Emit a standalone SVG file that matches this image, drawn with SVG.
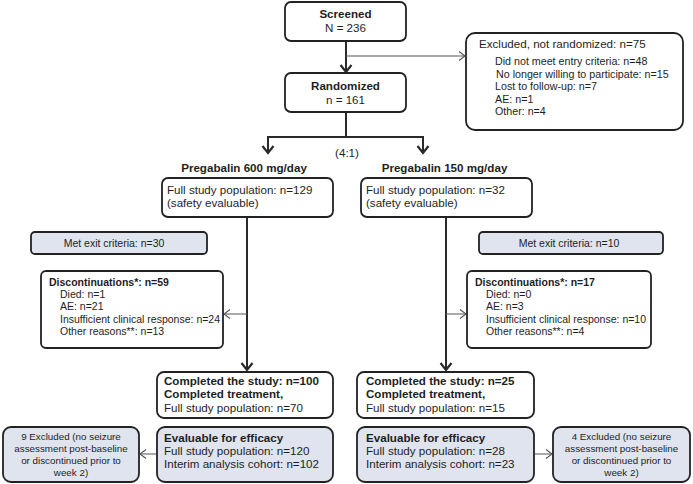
<svg xmlns="http://www.w3.org/2000/svg" width="693" height="484" viewBox="0 0 693 484">
<style>
text{font-family:"Liberation Sans",Arial,sans-serif;fill:#1e1e1e}
.box{fill:#fff;stroke:#222;stroke-width:1.8}
.blue{fill:#dfe4ef;stroke:#222;stroke-width:1.8}
.m{font-size:11.6px}
.b{font-weight:bold}
.s{font-size:10.5px}
.e{font-size:10.7px}
.x{font-size:9.8px}
.main{stroke:#2a2a2a;stroke-width:2;fill:none}
.thin{stroke:#555;stroke-width:1;fill:none}
</style>
<defs>
<marker id="ao" markerUnits="userSpaceOnUse" markerWidth="12" markerHeight="12" refX="10" refY="6" viewBox="0 0 12 12" orient="auto">
<path d="M4,1.5 L10,6 L4,10.5" fill="none" stroke="#555" stroke-width="1.1"/>
</marker>
<marker id="am" markerUnits="userSpaceOnUse" markerWidth="14" markerHeight="14" refX="11" refY="7" viewBox="0 0 14 14" orient="auto">
<path d="M4,1.5 L11,7 L4,12.5" fill="none" stroke="#2a2a2a" stroke-width="2.2"/>
</marker>
</defs>
<g id="connectors">
<line class="main" x1="346" y1="41" x2="346" y2="72" marker-end="url(#am)"/>
<line class="thin" x1="346" y1="56" x2="465" y2="56" marker-end="url(#ao)"/>
<polyline class="main" points="346,112 346,137"/>
<line class="main" x1="267" y1="137" x2="424" y2="137"/>
<line class="main" x1="268" y1="137" x2="268" y2="153" marker-end="url(#am)"/>
<line class="main" x1="423" y1="137" x2="423" y2="153" marker-end="url(#am)"/>
<line class="main" x1="247" y1="217" x2="247" y2="370" marker-end="url(#am)"/>
<line class="main" x1="446" y1="217" x2="446" y2="370" marker-end="url(#am)"/>
<line class="thin" x1="247" y1="314" x2="224" y2="314" marker-end="url(#ao)"/>
<line class="thin" x1="446" y1="314" x2="466" y2="314" marker-end="url(#ao)"/>
<line class="thin" x1="157" y1="454" x2="140" y2="454" marker-end="url(#ao)"/>
<line class="thin" x1="534" y1="454" x2="552" y2="454" marker-end="url(#ao)"/>
</g>
<g id="screened">
<rect class="box" x="285" y="2" width="121" height="39" rx="6"/>
<text class="m b" x="345.5" y="18" text-anchor="middle">Screened</text>
<text class="m" x="345.5" y="32" text-anchor="middle">N = 236</text>
</g>
<g id="randomized">
<rect class="box" x="285" y="73" width="121" height="39" rx="6"/>
<text class="m b" x="345.5" y="90" text-anchor="middle">Randomized</text>
<text class="m" x="345.5" y="104" text-anchor="middle">n = 161</text>
</g>
<g id="excluded">
<rect class="box" x="466" y="33" width="217" height="97" rx="9"/>
<text class="m" x="479" y="48">Excluded, not randomized: n=75</text>
<text class="e" x="495" y="65">Did not meet entry criteria: n=48</text>
<text class="e" x="496" y="78">No longer willing to participate: n=15</text>
<text class="e" x="495" y="90">Lost to follow-up: n=7</text>
<text class="e" x="495" y="103">AE: n=1</text>
<text class="e" x="495" y="115">Other: n=4</text>
</g>
<text class="m" x="347" y="157" text-anchor="middle">(4:1)</text>
<g id="arm600">
<text class="m b" x="244" y="172" text-anchor="middle">Pregabalin 600 mg/day</text>
<rect class="box" x="162" y="178" width="171" height="39" rx="6"/>
<text class="m" x="167" y="194">Full study population: n=129</text>
<text class="m" x="167" y="207">(safety evaluable)</text>
</g>
<g id="arm150">
<text class="m b" x="444.5" y="172" text-anchor="middle">Pregabalin 150 mg/day</text>
<rect class="box" x="361" y="178" width="171" height="39" rx="6"/>
<text class="m" x="366" y="194">Full study population: n=32</text>
<text class="m" x="366" y="207">(safety evaluable)</text>
</g>
<g id="exit600">
<rect class="blue" x="31" y="232" width="176" height="22" rx="4"/>
<text class="s" x="114" y="247" text-anchor="middle">Met exit criteria: n=30</text>
</g>
<g id="exit150">
<rect class="blue" x="479" y="232" width="184" height="22" rx="4"/>
<text class="s" x="569" y="247" text-anchor="middle">Met exit criteria: n=10</text>
</g>
<g id="disc600">
<rect class="box" x="41" y="271" width="182" height="77" rx="5"/>
<text class="s b" x="49" y="286">Discontinuations*: n=59</text>
<text class="s" x="60" y="298">Died: n=1</text>
<text class="s" x="60" y="310">AE: n=21</text>
<text class="s" x="60" y="323">Insufficient clinical response: n=24</text>
<text class="s" x="60" y="335">Other reasons**: n=13</text>
</g>
<g id="disc150">
<rect class="box" x="467" y="271" width="184" height="77" rx="5"/>
<text class="s b" x="475" y="286">Discontinuations*: n=17</text>
<text class="s" x="486" y="298">Died: n=0</text>
<text class="s" x="486" y="310">AE: n=3</text>
<text class="s" x="486" y="323">Insufficient clinical response: n=10</text>
<text class="s" x="486" y="335">Other reasons**: n=4</text>
</g>
<g id="comp600">
<rect class="box" x="157" y="372" width="176" height="46" rx="7"/>
<text class="m b" x="164" y="385">Completed the study: n=100</text>
<text class="m b" x="164" y="398">Completed treatment,</text>
<text class="m" x="164" y="412">Full study population: n=70</text>
</g>
<g id="comp150">
<rect class="box" x="357" y="372" width="177" height="46" rx="7"/>
<text class="m b" x="366" y="385">Completed the study: n=25</text>
<text class="m b" x="366" y="398">Completed treatment,</text>
<text class="m" x="366" y="412">Full study population: n=15</text>
</g>
<g id="eval600">
<rect class="blue" x="157" y="427" width="176" height="55" rx="8"/>
<text class="m b" x="164" y="442">Evaluable for efficacy</text>
<text class="m" x="164" y="455">Full study population: n=120</text>
<text class="m" x="164" y="468">Interim analysis cohort: n=102</text>
</g>
<g id="eval150">
<rect class="blue" x="357" y="427" width="177" height="55" rx="8"/>
<text class="m b" x="366" y="442">Evaluable for efficacy</text>
<text class="m" x="366" y="455">Full study population: n=28</text>
<text class="m" x="366" y="468">Interim analysis cohort: n=23</text>
</g>
<g id="excl600">
<rect class="blue" x="3" y="427" width="136" height="55" rx="8"/>
<text class="x" x="71" y="440" text-anchor="middle">9 Excluded (no seizure</text>
<text class="x" x="71" y="452" text-anchor="middle">assessment post-baseline</text>
<text class="x" x="71" y="464" text-anchor="middle">or discontinued prior to</text>
<text class="x" x="71" y="476" text-anchor="middle">week 2)</text>
</g>
<g id="excl150">
<rect class="blue" x="553" y="427" width="137" height="55" rx="8"/>
<text class="x" x="621.5" y="440" text-anchor="middle">4 Excluded (no seizure</text>
<text class="x" x="621.5" y="452" text-anchor="middle">assessment post-baseline</text>
<text class="x" x="621.5" y="464" text-anchor="middle">or discontinued prior to</text>
<text class="x" x="621.5" y="476" text-anchor="middle">week 2)</text>
</g>
</svg>
